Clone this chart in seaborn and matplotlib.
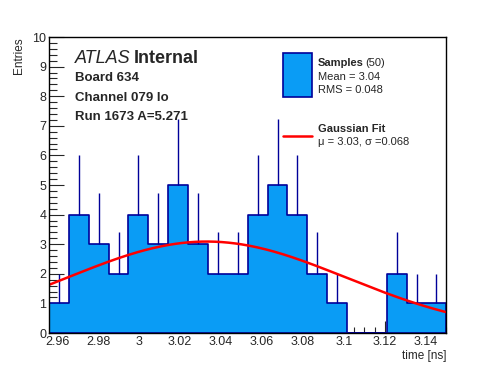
import numpy as np
import pandas as pd
import seaborn as sns
import matplotlib.pyplot as plt
from matplotlib.patches import Rectangle
from matplotlib.ticker import MultipleLocator

# histogram contents
bin_lo = 2.956
bin_hi = 3.150
counts = [1, 4, 3, 2, 4, 3, 5, 3, 2, 2, 4, 5, 4, 2, 1, 0, 0, 2, 1, 1]
fit_amp = 3.09
fit_mu = 3.033
fit_sigma = 0.068

edges = np.linspace(bin_lo, bin_hi, len(counts) + 1)
centers = 0.5 * (edges[:-1] + edges[1:])
df = pd.DataFrame({'time': centers, 'n': counts})

sns.set_style('ticks')
plt.rcParams['font.family'] = ['Liberation Sans', 'DejaVu Sans']

fig = plt.figure(figsize=(4.96, 3.72), dpi=100)
ax = fig.add_axes([0.0988, 0.1048, 0.9 - 0.0988, 0.9005 - 0.1048])

sns.histplot(data=df, x='time', weights='n', bins=len(counts),
             binrange=(bin_lo, bin_hi), element='step',
             fill=True, color='#0a9cf5', alpha=1, edgecolor='#000099',
             linewidth=1.2, ax=ax)

# upper sqrt(N) errors
err = df[df['n'] > 0]
ax.vlines(err['time'], err['n'], err['n'] + np.sqrt(err['n']),
          color='#000099', linewidth=1)

xs = np.linspace(bin_lo, bin_hi, 300)
gauss = pd.DataFrame({'x': xs, 'y': fit_amp * np.exp(-0.5 * ((xs - fit_mu) / fit_sigma) ** 2)})
sns.lineplot(data=gauss, x='x', y='y', color='#ff0000', linewidth=1.8, ax=ax)

ax.set_xlim(bin_lo, bin_hi)
ax.set_ylim(0, 10)
ax.xaxis.set_major_locator(MultipleLocator(0.02))
ax.xaxis.set_minor_locator(MultipleLocator(0.005))
ax.yaxis.set_major_locator(MultipleLocator(1))
ax.yaxis.set_minor_locator(MultipleLocator(0.2))
ax.xaxis.set_major_formatter(plt.FuncFormatter(lambda v, p: f'{v:g}'))
ax.tick_params(which='both', direction='in', top=False, right=False, labelsize=9, width=0.8)
ax.tick_params(axis='y', which='major', length=11)
ax.tick_params(axis='y', which='minor', length=5.5)
ax.tick_params(axis='x', which='major', length=9)
ax.tick_params(axis='x', which='minor', length=4.5)
ax.tick_params(axis='x', pad=2)
ax.tick_params(axis='y', pad=2)
for s in ax.spines.values():
    s.set_visible(True)
    s.set_linewidth(1)
    s.set_color('black')
ax.set_xlabel('')
ax.set_ylabel('')

fig.text(0.9, 0.026, 'time [ns]', ha='right', va='bottom', fontsize=8.5)
fig.text(0.038, 0.9, 'Entries', ha='center', va='top', rotation=90, fontsize=8.5)

# labels
fig.text(75 / 496, 1 - 63 / 372, 'ATLAS', style='italic', fontsize=13, va='baseline')
fig.text(134 / 496, 1 - 63 / 372, 'Internal', weight='bold', fontsize=13, va='baseline')
fig.text(75 / 496, 1 - 81 / 372, 'Board 634', weight='bold', fontsize=9.5, va='baseline')
fig.text(75 / 496, 1 - 101 / 372, 'Channel 079 lo', weight='bold', fontsize=9.5, va='baseline')
fig.text(75 / 496, 1 - 120 / 372, 'Run 1673 A=5.271', weight='bold', fontsize=9.5, va='baseline')

# legend
fig.patches.append(Rectangle((283 / 496, 1 - 97 / 372), 29 / 496, 44 / 372,
                             transform=fig.transFigure, facecolor='#0a9cf5',
                             edgecolor='#000099', linewidth=1.2))
fig.text(318 / 496, 1 - 66 / 372, 'Samples', weight='bold', fontsize=8, va='baseline')
fig.text(365 / 496, 1 - 66 / 372, '(50)', fontsize=8, va='baseline')
fig.text(318 / 496, 1 - 80 / 372, 'Mean = 3.04', fontsize=8, va='baseline')
fig.text(318 / 496, 1 - 93 / 372, 'RMS = 0.048', fontsize=8, va='baseline')
fig.lines.append(plt.Line2D([283 / 496, 312 / 496], [1 - 136 / 372, 1 - 136 / 372],
                            transform=fig.transFigure, color='#ff0000', linewidth=1.8))
fig.text(318 / 496, 1 - 132 / 372, 'Gaussian Fit', weight='bold', fontsize=8, va='baseline')
fig.text(318 / 496, 1 - 145 / 372, 'μ = 3.03, σ =0.068', fontsize=8, va='baseline')

fig.savefig('out.png', dpi=100)
